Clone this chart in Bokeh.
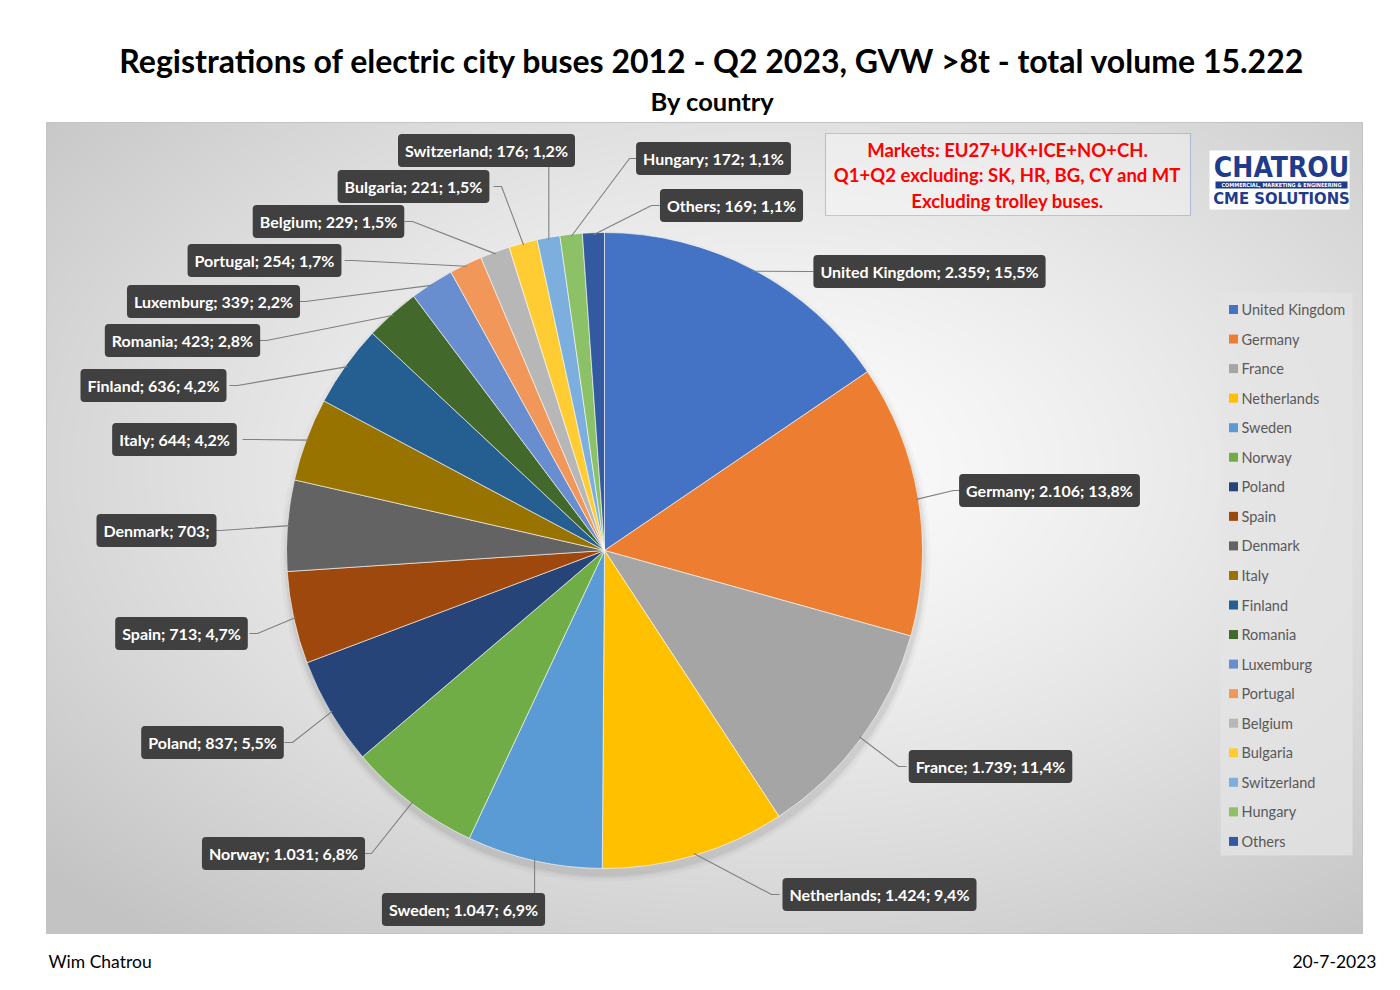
import numpy as np
from bokeh.plotting import figure
from bokeh.models import Range1d, Label, BoxAnnotation, ColumnDataSource
from bokeh.embed import file_html
from bokeh.resources import INLINE
from bokeh.core.properties import value

# ---------------- data ----------------
countries = ["United Kingdom", "Germany", "France", "Netherlands", "Sweden", "Norway",
             "Poland", "Spain", "Denmark", "Italy", "Finland", "Romania", "Luxemburg",
             "Portugal", "Belgium", "Bulgaria", "Switzerland", "Hungary", "Others"]
units = [2359, 2106, 1739, 1424, 1047, 1031, 837, 713, 703, 644, 636, 423, 339,
         254, 229, 221, 176, 172, 169]
colors = ["#4472C4", "#ED7D31", "#A5A5A5", "#FFC000", "#5B9BD5", "#70AD47",
          "#264478", "#9E480E", "#636363", "#997300", "#255E91", "#43682B",
          "#698ED0", "#F1975A", "#B7B7B7", "#FFCD33", "#7CAFDD", "#8CC168", "#335AA1"]

TITLE = "Registrations of electric city buses 2012 - Q2 2023, GVW >8t - total volume 15.222"
SUBTITLE = "By country"
NOTE_LINES = ["Markets: EU27+UK+ICE+NO+CH.",
              "Q1+Q2 excluding: SK, HR, BG, CY and MT",
              "Excluding trolley buses."]
FOOTER_LEFT = "Wim Chatrou"
FOOTER_RIGHT = "20-7-2023"
PCT_HIDDEN = ["Denmark"]   # label shown without percentage in the original

# ---------------- layout (page pixel coordinates) ----------------
LABEL_POS = [(929, 271), (1049, 490), (990, 766), (879, 894), (463, 909), (283, 853),
             (212, 742), (181, 633), (156, 530), (174, 439), (153, 385), (182, 340),
             (213, 301), (264, 260), (328, 221), (413, 186), (486, 150), (713, 158),
             (731, 205)]
CX, CY, R = 604, 550, 318
FONT = "Lato"


def Y(v):
    return 990 - v


p = figure(width=1384, height=974, x_range=Range1d(0, 1384), y_range=Range1d(16, 990),
           output_backend="svg", toolbar_location=None, min_border=0,
           x_axis_type=None, y_axis_type=None)
p.outline_line_color = None
p.background_fill_color = "white"
p.border_fill_color = "white"

# ---------------- plot area background (radial gray gradient) ----------------
PX0, PY0, PX1, PY1 = 46, 122, 1362, 933
W, H = (PX1 - PX0) // 2, (PY1 - PY0) // 2
gx = np.linspace(-1, 1, W)[None, :]
gy = np.linspace(-1, 1, H)[:, None]
gcx, gcy = 0.1, 0.15
t = np.sqrt((gx - gcx) ** 2 + (gy - gcy) ** 2) / 1.5
t = np.clip(t, 0, 1)
g = (253 - 58 * t ** 1.3).astype(np.uint32)
img = ((255 << 24) | (g << 16) | (g << 8) | g).astype(np.uint32)
p.image_rgba(image=[img], x=PX0, y=Y(PY1), dw=PX1 - PX0, dh=PY1 - PY0)
p.quad(left=PX0, right=PX1, top=Y(PY0), bottom=Y(PY1),
       fill_alpha=0, line_color="#c4c4c4", line_width=1)

# ---------------- pie ----------------
total = sum(units)
vals = np.array(units, dtype=float)
cum = np.concatenate([[0], np.cumsum(vals)])
frac0 = cum[:-1] / total
frac1 = cum[1:] / total
start = np.pi / 2 - frac0 * 2 * np.pi
end = np.pi / 2 - frac1 * 2 * np.pi

# soft shadow (mostly below the pie)
for k, a in [(7, 0.025), (4, 0.035), (2, 0.05)]:
    p.circle(x=CX + 1, y=Y(CY + 6), radius=R + k, fill_color="black", fill_alpha=a,
             line_color=None)

src = ColumnDataSource(dict(start=start, end=end, color=colors))
p.wedge(x=CX, y=Y(CY), radius=R, start_angle="start", end_angle="end",
        direction="clock", fill_color="color", line_color="white", line_width=0.6,
        source=src)


def fmt_int(v):
    return f"{v:,}".replace(",", ".")


def fmt_pct(v):
    return f"{100 * v / total:.1f}".replace(".", ",") + "%"


texts = []
for c, v in zip(countries, units):
    if c in PCT_HIDDEN:
        texts.append(f"{c}; {fmt_int(v)};")
    else:
        texts.append(f"{c}; {fmt_int(v)}; {fmt_pct(v)}")

# leader lines
xs, ys = [], []
for i, (txt, (lx, ly)) in enumerate(zip(texts, LABEL_POS)):
    th = (frac0[i] + frac1[i]) * np.pi
    ax = CX + (R - 2) * np.sin(th)
    ay = CY - (R - 2) * np.cos(th)
    hw = len(txt) * 4.0 + 4
    if lx - hw <= ax <= lx + hw:
        ey = ly + 12 if ay > ly else ly - 12
        xs.append([ax, ax])
        ys.append([Y(ay), Y(ey)])
    elif lx > ax:
        xs.append([ax, lx - hw - 8, lx - hw])
        ys.append([Y(ay), Y(ly), Y(ly)])
    else:
        xs.append([ax, lx + hw + 8, lx + hw])
        ys.append([Y(ay), Y(ly), Y(ly)])
p.multi_line(xs=xs, ys=ys, line_color="#808080", line_width=1.1)

# ---------------- legend ----------------
LEG_X0, LEG_Y0, LEG_X1, LEG_Y1 = 1220, 292, 1352, 855
p.quad(left=LEG_X0, right=LEG_X1, top=Y(LEG_Y0), bottom=Y(LEG_Y1),
       fill_color="#e4e4e4", fill_alpha=0.75, line_color=None)
leg_y = [Y(309 + i * 29.55) for i in range(len(countries))]
p.scatter(x=[1233] * len(countries), y=leg_y, marker="square", size=9,
          fill_color=colors, line_color=None)
p.text(x=[1241] * len(countries), y=leg_y, text=countries, text_font=value(FONT),
       text_font_size="14.5px", text_color="#595959", text_baseline="middle",
       text_align="left")

# data labels
for txt, (lx, ly) in zip(texts, LABEL_POS):
    p.add_layout(Label(x=lx + 3, y=Y(ly + 3), text=txt, text_font=FONT,
                       text_font_style="bold", text_font_size="16px", text_alpha=0,
                       text_align="center", text_baseline="middle",
                       background_fill_color="black", background_fill_alpha=0.2,
                       border_radius=4, padding=7))
    p.add_layout(Label(x=lx, y=Y(ly), text=txt, text_font=FONT,
                       text_font_style="bold", text_font_size="16px", text_color="white",
                       text_align="center", text_baseline="middle",
                       background_fill_color="#404040", border_radius=4, padding=7))

# ---------------- notes box ----------------
p.add_layout(BoxAnnotation(left=825, right=1190, top=Y(133), bottom=Y(215),
                           fill_color="white", fill_alpha=0.35, line_color="#4472C4",
                           line_width=1.2))
for k, line in enumerate(NOTE_LINES):
    p.add_layout(Label(x=1007, y=Y(149 + k * 25.5), text=line, text_font=FONT,
                       text_font_style="bold", text_font_size="18.5px", text_color="#FF0000",
                       text_align="center", text_baseline="middle"))

# ---------------- logo ----------------
p.add_layout(BoxAnnotation(left=1209, right=1349, top=Y(150), bottom=Y(209),
                           fill_color="white", fill_alpha=1, line_color=None))
p.add_layout(Label(x=1281, y=Y(167), text="CHATROU", text_font="DejaVu Sans Condensed",
                   text_font_style="bold", text_font_size="28px", text_color="#1F3C8C",
                   text_align="center", text_baseline="middle"))
p.add_layout(BoxAnnotation(left=1215, right=1347, top=Y(181), bottom=Y(188),
                           fill_color="#1F3C8C", fill_alpha=1, line_color=None))
p.add_layout(Label(x=1281, y=Y(184.5), text="COMMERCIAL, MARKETING & ENGINEERING",
                   text_font="DejaVu Sans Condensed", text_font_style="bold",
                   text_font_size="5.5px", text_color="white",
                   text_align="center", text_baseline="middle"))
p.add_layout(Label(x=1281, y=Y(198), text="CME SOLUTIONS", text_font="DejaVu Sans Condensed",
                   text_font_style="bold", text_font_size="16.5px", text_color="#1F3C8C",
                   text_align="center", text_baseline="middle"))

# ---------------- titles and footer ----------------
p.add_layout(Label(x=712, y=Y(60), text=TITLE, text_font=FONT, text_font_style="bold",
                   text_font_size="32px", text_color="black", text_align="center",
                   text_baseline="middle"))
p.add_layout(Label(x=712, y=Y(100), text=SUBTITLE, text_font=FONT, text_font_style="bold",
                   text_font_size="25.5px", text_color="black", text_align="center",
                   text_baseline="middle"))
p.add_layout(Label(x=48, y=Y(961), text=FOOTER_LEFT, text_font=FONT,
                   text_font_size="17.5px", text_color="black", text_align="left",
                   text_baseline="middle"))
p.add_layout(Label(x=1376, y=Y(961), text=FOOTER_RIGHT, text_font=FONT,
                   text_font_size="17.5px", text_color="black", text_align="right",
                   text_baseline="middle"))

open("out.html", "w").write(file_html(p, INLINE))
